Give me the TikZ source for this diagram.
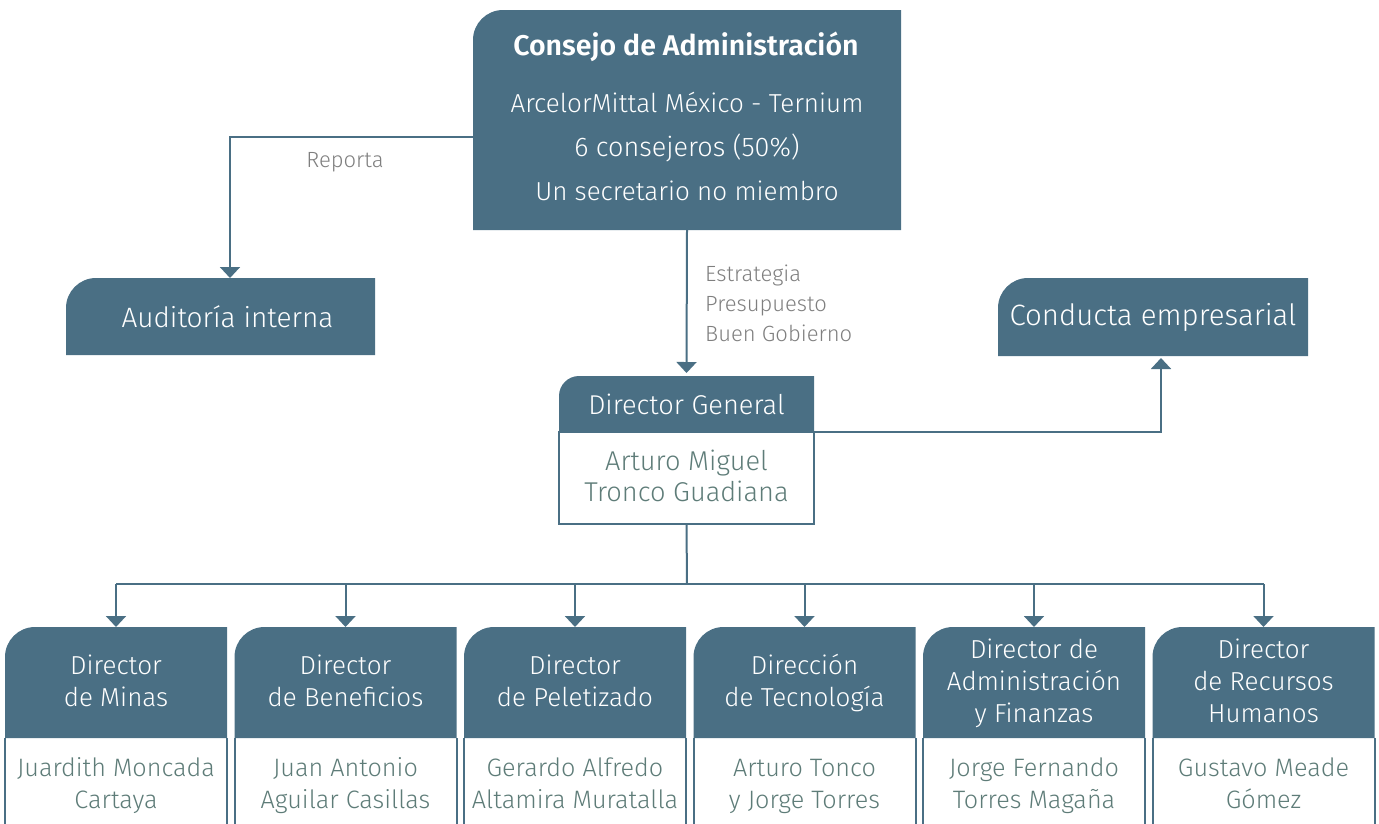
\documentclass[tikz,border=0pt]{standalone}
\usepackage{fontspec}
\setmainfont{Fira Sans}[UprightFont=* Light, BoldFont=* SemiBold]
\usetikzlibrary{arrows.meta,backgrounds}
\definecolor{boxc}{HTML}{4A6F84}
\definecolor{namec}{HTML}{5E7C78}
\definecolor{labc}{HTML}{7F7F7F}
\tikzset{
  conn/.style={draw=boxc, line width=2pt},
  arr/.style={conn, -{Triangle[width=20pt,length=11pt]}},
  frame/.style={shape=rectangle, inner sep=0pt, outer sep=0pt, align=center},
  wtxt/.style={text=white, font=\fontsize{26}{32}\selectfont},
  hdr/.style={frame, minimum width=222pt, minimum height=111pt},
  bdy/.style={frame, minimum width=222pt, minimum height=92pt},
  lab/.style={text=labc, font=\fontsize{22}{30}\selectfont, inner sep=0pt, align=left},
}
\newcommand\tabshape[2][30]{%
  \fill[boxc] (#2.south west) [rounded corners=#1pt] -- (#2.north west) [sharp corners] -- (#2.north east) -- (#2.south east) -- cycle;}
\begin{document}
\begin{tikzpicture}[x=1pt,y=-1pt]
\useasboundingbox (0,0) rectangle (1379,823);
\clip (0,0) rectangle (1379,823);
% Consejo
\node[frame, minimum width=428pt, minimum height=220pt] (cons) at (687,120) {};
\node[wtxt, anchor=base, font=\fontsize{28.5}{32}\selectfont\bfseries] (consT) at (686,55) {Consejo de Administración};
\node[wtxt, anchor=base] (cons1) at (687,112) {ArcelorMittal México - Ternium};
\node[wtxt, anchor=base, font=\fontsize{27}{32}\selectfont] (cons2) at (687,156) {6 consejeros (50\%)};
\node[wtxt, anchor=base] (cons3) at (687,200) {Un secretario no miembro};
% Auditoria
\node[frame, wtxt, minimum width=309pt, minimum height=77pt, font=\fontsize{28}{32}\selectfont] (aud) at (220.5,316.5) {\hspace*{14pt}Auditoría interna};
% Conducta
\node[frame, wtxt, minimum width=310pt, minimum height=78pt, font=\fontsize{29.4}{32}\selectfont] (cond) at (1153,317) {Conducta empresarial};
% Director General
\node[frame, wtxt, minimum width=255pt, minimum height=56pt, font=\fontsize{27.2}{32}\selectfont] (dgh) at (686.5,404) {Director General};
\node[frame, draw=boxc, line width=2pt, minimum width=255pt, minimum height=92pt] (dgb) at (686.5,478) {};
\node[frame, text=namec, font=\fontsize{27.2}{31}\selectfont] (dgt) at (686.5,480) {\strut Arturo Miguel\\Tronco Guadiana\strut};
% bottom
\foreach \i/\cx/\htxt/\ntxt in {
  1/116/{Director\\de Minas}/{Juardith Moncada\\Cartaya},
  2/345.5/{Director\\de Beneficios}/{Juan Antonio\\Aguilar Casillas},
  3/575/{Director\\de Peletizado}/{Gerardo Alfredo\\Altamira Muratalla},
  4/804.5/{Dirección\\de Tecnología}/{Arturo Tonco\\y Jorge Torres},
  5/1034/{Director de\\Administración\\y Finanzas}/{Jorge Fernando\\Torres Magaña},
  6/1263.5/{Director\\de Recursos\\Humanos}/{Gustavo Meade\\Gómez}} {
  \node[hdr] (h\i) at (\cx,682.5) {};
  \node[frame, text=white, font=\fontsize{26}{32}\selectfont] (ht\i) at (\cx,684) {\strut\htxt\strut};
  \node[bdy] (b\i) at (\cx,784) {};
  \node[frame, text=namec, font=\fontsize{25.2}{32}\selectfont] (nt\i) at (\cx,786) {\strut\ntxt\strut};
}
% labels
\node[lab, anchor=base] (rep) at (345,167) {Reporta};
\node[lab, anchor=north west] (est) at (705,265) {Estrategia\\Presupuesto\\Buen Gobierno};
% connectors
\draw[arr] ([yshift=-17pt]cons.west) -| ([xshift=9.5pt]aud.north);
\draw[arr] (cons.south) -- ([yshift=3pt]dgh.north);
\draw[arr] (dgh.south east) -| ([xshift=8pt,yshift=-2pt]cond.south);
\coordinate (bus) at (687,584);
\draw[conn] (dgb.south) -- (bus);
\draw[conn] (h1.north |- bus) -- (h6.north |- bus);
\foreach \i in {1,...,6} { \draw[arr] (h\i.north |- bus) -- (h\i.north); }
\begin{pgfonlayer}{background}
  \tabshape{cons}
  \tabshape{aud}
  \tabshape{cond}
  \tabshape[20]{dgh}
  \foreach \i in {1,...,6} {
    \tabshape{h\i}
    \draw[conn] (b\i.south west) -- (b\i.north west) (b\i.north east) -- (b\i.south east);
  }
\end{pgfonlayer}
\end{tikzpicture}
\end{document}
